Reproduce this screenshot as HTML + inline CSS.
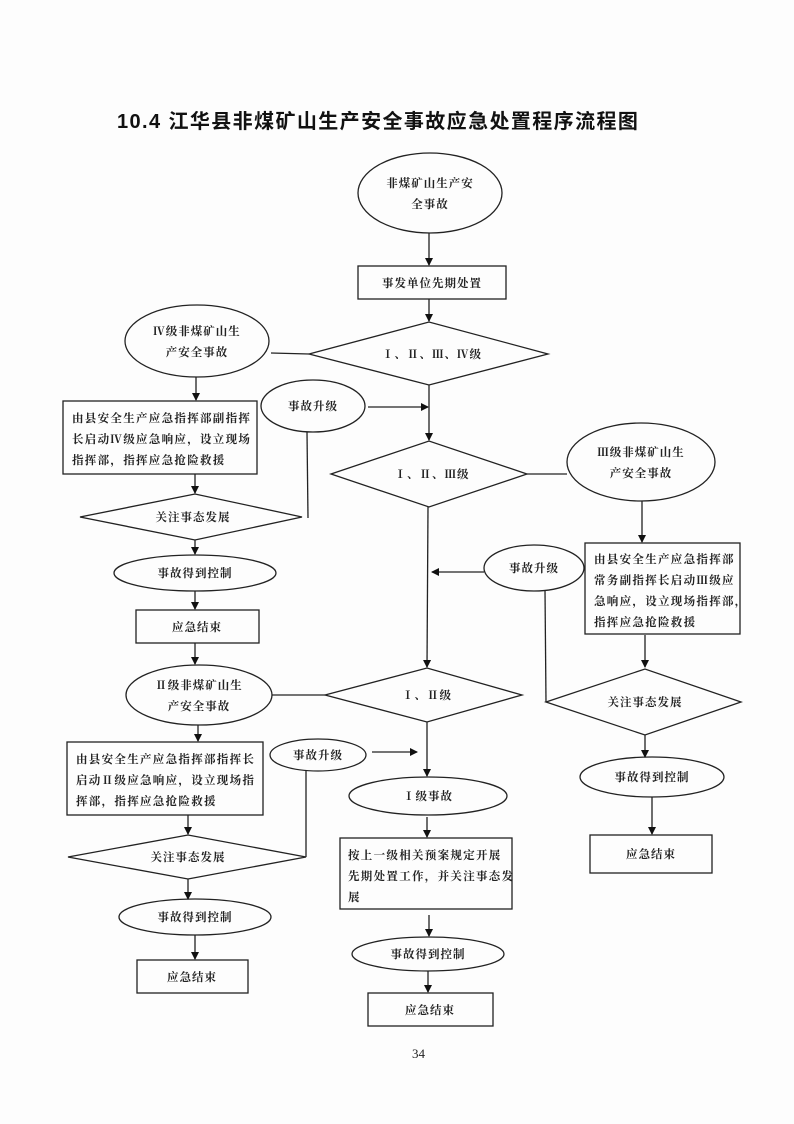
<!DOCTYPE html>
<html><head><meta charset="utf-8"><style>
html,body{margin:0;padding:0;background:#fdfdfd;}
svg{display:block}
text{font-family:"Liberation Serif","Noto Serif CJK SC",serif;font-size:11.5px;font-weight:bold;fill:#222;letter-spacing:1px;}
.p{letter-spacing:1.3px;}
.t{font-family:"Liberation Sans","Noto Sans CJK SC",sans-serif;font-size:20px;font-weight:bold;fill:#111;letter-spacing:1.4px;}
</style></head><body>
<svg width="794" height="1124" viewBox="0 0 794 1124" xmlns="http://www.w3.org/2000/svg">
<defs><marker id="a" markerWidth="8" markerHeight="8" refX="7" refY="4" orient="auto" markerUnits="userSpaceOnUse"><path d="M0,0 L8,4 L0,8 z" fill="#111"/></marker></defs>
<text class="t" x="117" y="128">10.4 江华县非煤矿山生产安全事故应急处置程序流程图</text>
<g fill="none" stroke="#222" stroke-width="1.3">
<ellipse cx="430" cy="193" rx="72" ry="40"/>
<line x1="429" y1="233" x2="429" y2="265" marker-end="url(#a)"/>
<rect x="358" y="266" width="148" height="33"/>
<line x1="429" y1="299" x2="429" y2="321" marker-end="url(#a)"/>
<polygon points="309,354 429,322 548,354 429,385"/>
<ellipse cx="197" cy="341" rx="72" ry="36"/>
<line x1="271" y1="353" x2="309" y2="354"/>
<line x1="196" y1="377" x2="196" y2="400" marker-end="url(#a)"/>
<rect x="63" y="401" width="194" height="73"/>
<ellipse cx="313" cy="406" rx="52" ry="26"/>
<line x1="368" y1="407" x2="428" y2="407" marker-end="url(#a)"/>
<line x1="307" y1="432" x2="308" y2="518"/>
<line x1="195" y1="474" x2="195" y2="493" marker-end="url(#a)"/>
<polygon points="80,517 195,494 302,517 195,540"/>
<line x1="195" y1="540" x2="195" y2="554" marker-end="url(#a)"/>
<ellipse cx="195" cy="573" rx="81" ry="18"/>
<line x1="195" y1="591" x2="195" y2="609" marker-end="url(#a)"/>
<rect x="136" y="610" width="123" height="33"/>
<line x1="195" y1="643" x2="195" y2="664" marker-end="url(#a)"/>
<line x1="429" y1="385" x2="429" y2="440" marker-end="url(#a)"/>
<polygon points="331,474 429,441 527,474 429,507"/>
<line x1="527" y1="474" x2="567" y2="474"/>
<line x1="428" y1="507" x2="427" y2="667" marker-end="url(#a)"/>
<ellipse cx="534" cy="568" rx="50" ry="23"/>
<line x1="484" y1="572" x2="432" y2="572" marker-end="url(#a)"/>
<line x1="545" y1="590" x2="546" y2="702"/>
<ellipse cx="199" cy="695" rx="73" ry="30"/>
<line x1="272" y1="695" x2="325" y2="695"/>
<polygon points="325,695 427,668 522,695 427,722"/>
<line x1="198" y1="725" x2="198" y2="741" marker-end="url(#a)"/>
<rect x="67" y="742" width="196" height="73"/>
<ellipse cx="318" cy="755" rx="48" ry="16"/>
<line x1="372" y1="752" x2="417" y2="752" marker-end="url(#a)"/>
<line x1="306" y1="771" x2="306" y2="857"/>
<line x1="188" y1="815" x2="188" y2="834" marker-end="url(#a)"/>
<polygon points="68,857 188,835 306,857 188,879"/>
<line x1="188" y1="879" x2="188" y2="899" marker-end="url(#a)"/>
<ellipse cx="195" cy="917" rx="76" ry="18"/>
<line x1="195" y1="935" x2="195" y2="959" marker-end="url(#a)"/>
<rect x="137" y="960" width="111" height="33"/>
<line x1="427" y1="722" x2="427" y2="776" marker-end="url(#a)"/>
<ellipse cx="428" cy="796" rx="79" ry="19"/>
<line x1="427" y1="817" x2="427" y2="837" marker-end="url(#a)"/>
<rect x="340" y="838" width="172" height="71"/>
<line x1="429" y1="915" x2="429" y2="936" marker-end="url(#a)"/>
<ellipse cx="428" cy="954" rx="76" ry="17"/>
<line x1="428" y1="971" x2="428" y2="992" marker-end="url(#a)"/>
<rect x="368" y="993" width="125" height="33"/>
<ellipse cx="641" cy="462" rx="74" ry="39"/>
<line x1="642" y1="501" x2="642" y2="542" marker-end="url(#a)"/>
<rect x="585" y="543" width="155" height="91"/>
<line x1="645" y1="635" x2="645" y2="667" marker-end="url(#a)"/>
<polygon points="546,702 645,669 741,702 645,735"/>
<line x1="645" y1="735" x2="645" y2="757" marker-end="url(#a)"/>
<ellipse cx="652" cy="777" rx="72" ry="20"/>
<line x1="652" y1="797" x2="652" y2="834" marker-end="url(#a)"/>
<rect x="590" y="835" width="122" height="38"/>
</g>
<g text-anchor="middle">
<text x="430" y="187">非煤矿山生产安</text><text x="430" y="208">全事故</text>
<text x="432" y="287">事发单位先期处置</text>
<text x="432" y="358">Ⅰ、Ⅱ、Ⅲ、Ⅳ级</text>
<text x="197" y="335">Ⅳ级非煤矿山生</text><text x="197" y="356">产安全事故</text>
<text x="313" y="410">事故升级</text>
<text x="432" y="478">Ⅰ、Ⅱ、Ⅲ级</text>
<text x="641" y="456">Ⅲ级非煤矿山生</text><text x="641" y="477">产安全事故</text>
<text x="193" y="521">关注事态发展</text>
<text x="195" y="577">事故得到控制</text>
<text x="197" y="631">应急结束</text>
<text x="534" y="572">事故升级</text>
<text x="199" y="689">Ⅱ级非煤矿山生</text><text x="199" y="710">产安全事故</text>
<text x="427" y="699">Ⅰ、Ⅱ级</text>
<text x="318" y="759">事故升级</text>
<text x="188" y="861">关注事态发展</text>
<text x="195" y="921">事故得到控制</text>
<text x="192" y="981">应急结束</text>
<text x="428" y="800">Ⅰ级事故</text>
<text x="428" y="958">事故得到控制</text>
<text x="430" y="1014">应急结束</text>
<text x="645" y="706">关注事态发展</text>
<text x="652" y="781">事故得到控制</text>
<text x="651" y="858">应急结束</text>
</g>
<g>
<text class="p" x="72" y="422">由县安全生产应急指挥部副指挥</text>
<text class="p" x="72" y="443">长启动Ⅳ级应急响应，设立现场</text>
<text class="p" x="72" y="464">指挥部，指挥应急抢险救援</text>
<text class="p" x="76" y="763">由县安全生产应急指挥部指挥长</text>
<text class="p" x="76" y="784">启动Ⅱ级应急响应，设立现场指</text>
<text class="p" x="76" y="805">挥部，指挥应急抢险救援</text>
<text class="p" x="348" y="859">按上一级相关预案规定开展</text>
<text class="p" x="348" y="880">先期处置工作，并关注事态发</text>
<text class="p" x="348" y="901">展</text>
<text class="p" x="594" y="563">由县安全生产应急指挥部</text>
<text class="p" x="594" y="584">常务副指挥长启动Ⅲ级应</text>
<text class="p" x="594" y="605">急响应，设立现场指挥部，</text>
<text class="p" x="594" y="626">指挥应急抢险救援</text>
<text x="412" y="1058" style="font-weight:normal;font-size:13px;letter-spacing:0">34</text>
</g>
</svg>
</body></html>
